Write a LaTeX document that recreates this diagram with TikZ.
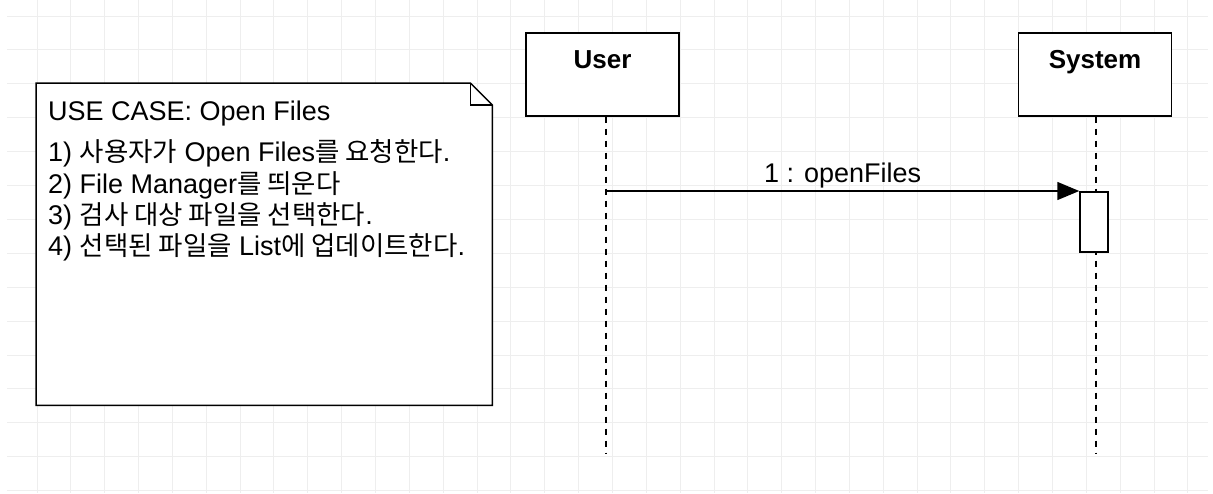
\documentclass[tikz,border=0pt]{standalone}
\usepackage{fontspec}
\setmainfont{Liberation Sans}
\newfontfamily\kr[Scale=0.98]{Noto Sans CJK KR}
\usepackage{tikz}
\usetikzlibrary{positioning, arrows.meta}
\definecolor{gridgray}{HTML}{EEEEEE}
\tikzstyle{lifebox} = [rectangle, draw=black, line width=1.5pt, fill=white, minimum width=153pt, inner sep=0pt, text height=36pt, text depth=47pt, font=\fontsize{26}{30}\selectfont\bfseries]
\tikzstyle{notebox} = [rectangle, minimum width=456pt, minimum height=322pt, inner sep=0pt, anchor=north west]
\tikzstyle{noteline} = [inner sep=0pt, text height=21pt, text depth=10pt, anchor=north west, font=\fontsize{27}{31}\selectfont]
\tikzstyle{activation} = [rectangle, draw=black, line width=1.5pt, fill=white, minimum width=28pt, minimum height=60pt, inner sep=0pt, anchor=north]
\tikzstyle{lifeline} = [line width=1.5pt, dash pattern=on 6pt off 6pt]
\tikzstyle{arrow} = [line width=1.5pt, -{Triangle[length=22pt,width=18pt]}]
\tikzstyle{gridline} = [draw=gridgray, line width=1pt]

\begin{document}
\begin{tikzpicture}[x=1pt, y=-1pt]
            \useasboundingbox (0,0) rectangle (1213,493);
            % background grid
            \foreach \i in {0,...,34} \draw [gridline] (37+33.85*\i,0) -- (37+33.85*\i,493);
            \foreach \j in {0,...,14} \draw [gridline] (7,16+33.9*\j) -- (1208,16+33.9*\j);

            % use case note
            \node (note) [notebox] at (36,83) {};
            \draw [line width=1.5pt, fill=white] (note.north west) -- ([xshift=-22pt]note.north east) -- ([yshift=-22pt]note.north east) -- (note.south east) -- (note.south west) -- cycle;
            \draw [line width=1.5pt] ([xshift=-22pt]note.north east) |- ([yshift=-22pt]note.north east);
            \node (title) [noteline] at (48,99) {USE CASE: Open Files};
            \node (step1) [noteline, below=10pt of title.south west, anchor=north west] {1) {\kr 사용자가} Open Files{\kr 를 요청한다}.};
            \node (step2) [noteline, below=0pt of step1.south west, anchor=north west] {2) File Manager{\kr 를 띄운다}};
            \node (step3) [noteline, below=0pt of step2.south west, anchor=north west] {3) {\kr 검사 대상 파일을 선택한다}.};
            \node (step4) [noteline, below=0pt of step3.south west, anchor=north west] {4) {\kr 선택된 파일을} List{\kr 에 업데이트한다}.};

            % lifelines
            \node (user) [lifebox, anchor=north] at (602.5,32) {User};
            \node (system) [lifebox, right=338pt of user] {System};
            \coordinate (userend) at (606,453);
            \coordinate (sysend) at (1096,453);
            \draw [lifeline] (user.south -| userend) -- (userend);
            \draw [lifeline] (system.south -| sysend) -- (sysend);
            \node (act) [activation] at (1094,191) {};

            % message
            \coordinate (callstart) at (act.north west -| userend);
            \draw [arrow] (callstart) -- node[anchor=base, yshift=8.5pt, font=\fontsize{27}{31}\selectfont]{1 : openFiles} (act.north west);

            \end{tikzpicture}
\end{document}
